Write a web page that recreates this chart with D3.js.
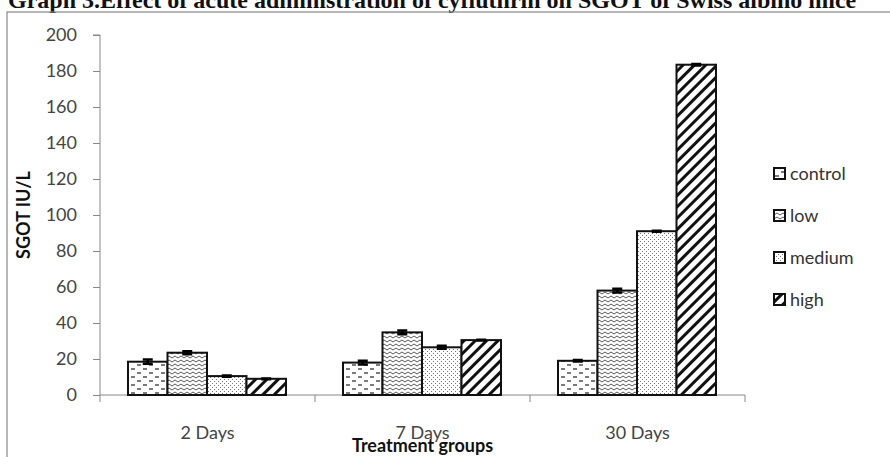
<!DOCTYPE html>
<html>
<head>
<meta charset="utf-8">
<script src="https://d3js.org/d3.v7.min.js"></script>
<style>
    body { margin: 0; background: #fff; }
    .tick text { font-family: Lato, "Open Sans", sans-serif; font-size: 18px; fill: #444; }
    .axis path, .axis line { stroke: #888; }
    .legend text { font-family: Lato, "Open Sans", sans-serif; font-size: 18px; fill: #333; }
</style>
</head>
<body>
<svg width="890" height="457"></svg>
<script>
    // data
    const groups = ["2 Days", "7 Days", "30 Days"];
    const treatments = ["control", "low", "medium", "high"];
    const control = [18.5, 18, 19];
    const low = [23.5, 34.8, 58];
    const medium = [10.5, 26.5, 91];
    const high = [9, 30.5, 183.5];
    const errControl = [1.2, 1.0, 0.4];
    const errLow = [0.8, 1.0, 1.0];
    const errMedium = [0.3, 0.8, 0.3];
    const errHigh = [0.2, 0.2, 0.4];
    const yTicks = [0, 20, 40, 60, 80, 100, 120, 140, 160, 180, 200];

    const valuesBy = {control, low, medium, high};
    const errBy = {control: errControl, low: errLow, medium: errMedium, high: errHigh};

    const margin = {top: 35, left: 100},
          width = 645,
          height = 360;

    const svg = d3.select("svg");

    // patterns
    const defs = svg.append("defs");
    const pControl = defs.append("pattern").attr("id", "p-control")
        .attr("patternUnits", "userSpaceOnUse").attr("width", 12).attr("height", 8);
    pControl.append("rect").attr("width", 12).attr("height", 8).attr("fill", "#fff");
    pControl.append("line").attr("x1", 1).attr("x2", 5).attr("y1", 2).attr("y2", 2)
        .attr("stroke", "#333").attr("stroke-width", 1.3);
    pControl.append("line").attr("x1", 7).attr("x2", 11).attr("y1", 6).attr("y2", 6)
        .attr("stroke", "#333").attr("stroke-width", 1.3);

    const pLow = defs.append("pattern").attr("id", "p-low")
        .attr("patternUnits", "userSpaceOnUse").attr("width", 6).attr("height", 4);
    pLow.append("rect").attr("width", 6).attr("height", 4).attr("fill", "#fff");
    pLow.append("path").attr("d", "M0,3 L3,1 L6,3").attr("fill", "none")
        .attr("stroke", "#444").attr("stroke-width", 0.9);

    const pMed = defs.append("pattern").attr("id", "p-medium")
        .attr("patternUnits", "userSpaceOnUse").attr("width", 4).attr("height", 4);
    pMed.append("rect").attr("width", 4).attr("height", 4).attr("fill", "#fff");
    pMed.append("rect").attr("x", 0).attr("y", 0).attr("width", 1).attr("height", 1).attr("fill", "#777");
    pMed.append("rect").attr("x", 2).attr("y", 2).attr("width", 1).attr("height", 1).attr("fill", "#777");

    const pHigh = defs.append("pattern").attr("id", "p-high")
        .attr("patternUnits", "userSpaceOnUse").attr("width", 8).attr("height", 8)
        .attr("patternTransform", "rotate(45)");
    pHigh.append("rect").attr("width", 8).attr("height", 8).attr("fill", "#fff");
    pHigh.append("rect").attr("x", 0).attr("y", 0).attr("width", 3).attr("height", 8).attr("fill", "#111");

    // title (clipped at top as in the source)
    svg.append("text")
        .attr("x", 8).attr("y", 8)
        .style("font-family", "'Liberation Serif', 'DejaVu Serif', serif")
        .style("font-weight", "bold")
        .style("font-size", "24px")
        .attr("fill", "#111")
        .text("Graph 3.Effect of acute administration of cyfluthrin on SGOT of Swiss albino mice");

    // outer border
    svg.append("rect")
        .attr("x", 7).attr("y", 12).attr("width", 900).attr("height", 460)
        .attr("fill", "none").attr("stroke", "#888").attr("stroke-width", 1.2);

    const g = svg.append("g").attr("transform", `translate(${margin.left},${margin.top})`);

    const x0 = d3.scaleBand().domain(groups).range([0, width]).paddingInner(0).paddingOuter(0);
    const x1 = d3.scaleBand().domain(treatments).range([28, x0.bandwidth() - 29]).padding(0);
    const y = d3.scaleLinear().domain([0, 200]).range([height, 0]);

    // y axis
    g.append("g").attr("class", "axis")
        .call(d3.axisLeft(y).tickValues(yTicks).tickSize(7).tickSizeOuter(7).tickPadding(16))
        .call(s => s.select(".domain").attr("d", `M-7,0H0V${height}`));

    // x axis
    const xAxis = g.append("g").attr("class", "axis")
        .attr("transform", `translate(0,${height})`);
    xAxis.append("line").attr("x1", 0).attr("x2", width).attr("stroke", "#888");
    xAxis.selectAll(".xt").data([0, 1, 2, 3]).enter().append("line")
        .attr("x1", i => i * x0.bandwidth()).attr("x2", i => i * x0.bandwidth())
        .attr("y1", 0).attr("y2", 7).attr("stroke", "#888");
    xAxis.selectAll(".xl").data(groups).enter().append("text")
        .attr("x", d => x0(d) + x0.bandwidth() / 2)
        .attr("y", 44)
        .attr("text-anchor", "middle")
        .style("font-family", "Lato, 'Open Sans', sans-serif")
        .style("font-size", "18px")
        .attr("fill", "#444")
        .text(d => d);

    // bars
    const gg = g.selectAll(".grp").data(groups).enter().append("g")
        .attr("transform", d => `translate(${x0(d)},0)`);

    treatments.forEach(t => {
        gg.append("rect")
            .attr("x", x1(t))
            .attr("y", (d, i) => y(valuesBy[t][i]))
            .attr("width", x1.bandwidth())
            .attr("height", (d, i) => height - y(valuesBy[t][i]))
            .attr("fill", `url(#p-${t})`)
            .attr("stroke", "#111")
            .attr("stroke-width", 2);

        // error bars
        const cx = x1(t) + x1.bandwidth() / 2;
        gg.append("path")
            .attr("d", (d, i) => {
                const v = valuesBy[t][i], e = errBy[t][i];
                const top = y(v + e), bot = y(v - e);
                return `M${cx},${top}V${bot}M${cx - 5},${top}H${cx + 5}M${cx - 5},${bot}H${cx + 5}`;
            })
            .attr("fill", "none")
            .attr("stroke", "#000")
            .attr("stroke-width", 2.5);
    });

    // axis titles
    svg.append("text")
        .attr("transform", `translate(30,${margin.top + height / 2}) rotate(-90)`)
        .attr("text-anchor", "middle")
        .style("font-family", "Lato, 'Open Sans', sans-serif")
        .style("font-weight", "bold")
        .style("font-size", "18px")
        .attr("fill", "#111")
        .text("SGOT IU/L");

    svg.append("text")
        .attr("x", margin.left + width / 2)
        .attr("y", 452)
        .attr("text-anchor", "middle")
        .style("font-family", "Lato, 'Open Sans', sans-serif")
        .style("font-weight", "bold")
        .style("font-size", "18px")
        .attr("fill", "#111")
        .text("Treatment groups");

    // legend
    const legend = svg.selectAll(".legend").data(treatments).enter().append("g")
        .attr("class", "legend")
        .attr("transform", (d, i) => `translate(774,${174 + i * 42})`);
    legend.append("rect")
        .attr("x", 0).attr("y", -6).attr("width", 11).attr("height", 11)
        .attr("fill", d => `url(#p-${d})`)
        .attr("stroke", "#111").attr("stroke-width", 2);
    legend.append("text")
        .attr("x", 16).attr("y", 0).attr("dy", "0.35em")
        .text(d => d);
</script>
</body>
</html>
